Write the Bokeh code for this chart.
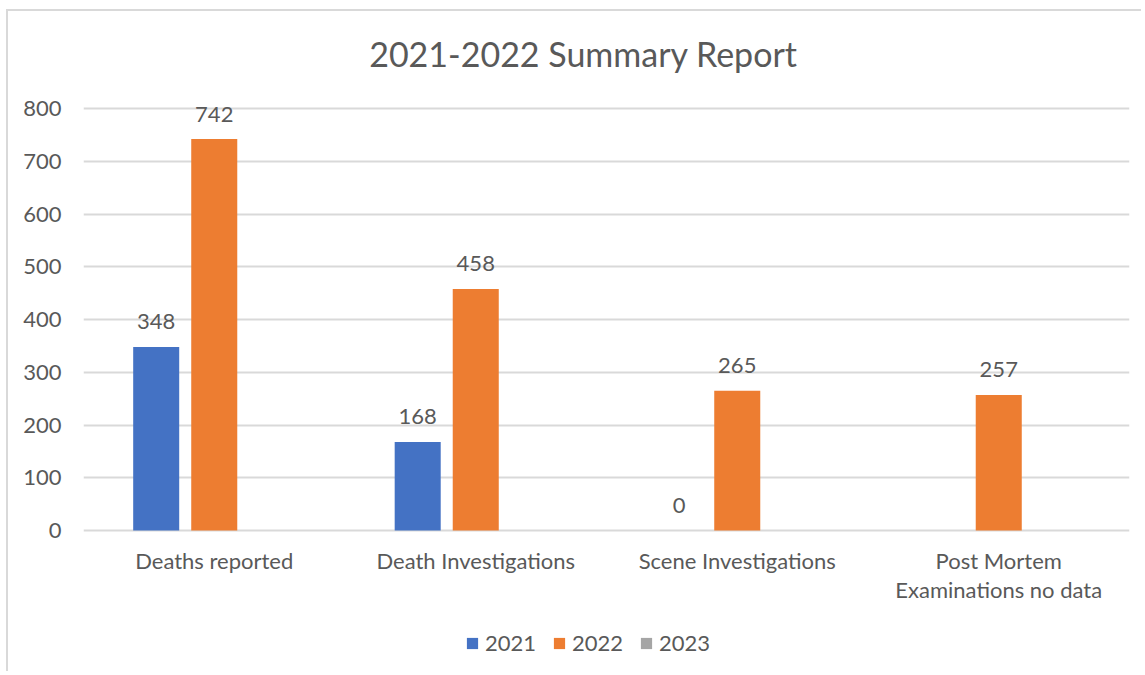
from bokeh.plotting import figure
from bokeh.models import (ColumnDataSource, FactorRange, FixedTicker, Legend, LegendItem,
                          Label, Range1d)
from bokeh.transform import dodge
from bokeh.core.properties import value
from bokeh.embed import file_html
from bokeh.resources import INLINE
import numpy as np

# ---- data ----
categories = ["Deaths reported", "Death Investigations", "Scene Investigations",
              "Post Mortem Examinations no data"]
label_line1 = ["Deaths reported", "Death Investigations", "Scene Investigations", "Post Mortem"]
label_line2 = ["", "", "", "Examinations no data"]
series_names = ["2021", "2022", "2023"]
values_2021 = [348, 168, 0, None]
values_2022 = [742, 458, 265, 257]
values_2023 = [None, None, None, None]
y_ticks = [0, 100, 200, 300, 400, 500, 600, 700, 800]
title_text = "2021-2022 Summary Report"

colors = ["#4472C4", "#ED7D31", "#A5A5A5"]
FONT = "Lato"
TXT = "#595959"

# pixel geometry of the plot frame
PX_PER_100 = 52.75
K = 100.0 / PX_PER_100  # data units per pixel
Y_TOP = 800 + 97 * K
Y_BOTTOM = -143 * K


def to_arr(vals):
    return np.array([np.nan if v is None else float(v) for v in vals])


def to_lbl(vals):
    return ["" if v is None else str(v) for v in vals]


src = ColumnDataSource(dict(
    cat=categories,
    s2021=to_arr(values_2021), s2022=to_arr(values_2022), s2023=to_arr(values_2023),
    l2021=to_lbl(values_2021), l2022=to_lbl(values_2022), l2023=to_lbl(values_2023),
    line1=label_line1, line2=label_line2,
    y1=[-30 * K] * len(categories), y2=[-59 * K] * len(categories),
))

p = figure(x_range=FactorRange(*categories, range_padding=0),
           y_range=Range1d(Y_BOTTOM, Y_TOP),
           width=1135, height=662, output_backend="svg", toolbar_location=None,
           min_border_left=75, min_border_right=14, min_border_top=0,
           min_border_bottom=0)
p.margin = (9, 0, 0, 6)
p.styles = {"border-top": "2px solid #D9D9D9", "border-left": "2px solid #D9D9D9"}
p.outline_line_color = None
p.background_fill_color = "white"
p.border_fill_color = "white"

offsets = [-0.222, 0.0, 0.222]
bw = 0.176
renderers = []
for name, off, col in zip(series_names, offsets, colors):
    r = p.vbar(x=dodge("cat", off, range=p.x_range), top="s" + name, width=bw,
               source=src, fill_color=col, line_color=None)
    renderers.append(r)
    p.text(x=dodge("cat", off, range=p.x_range), y="s" + name, text="l" + name,
           source=src, text_align="center", text_baseline="alphabetic", y_offset=-25,
           text_font=value(FONT), text_font_size="22px", text_color=TXT)

# category labels (below the zero line)
for col in ["line1", "line2"]:
    p.text(x="cat", y="y" + col[-1], text=col, source=src, text_align="center",
           text_baseline="middle", text_font=value(FONT), text_font_size="22px",
           text_color=TXT)

# axes
p.xaxis.visible = False
p.yaxis.ticker = FixedTicker(ticks=y_ticks)
p.yaxis.axis_line_color = None
p.yaxis.major_tick_line_color = None
p.yaxis.minor_tick_line_color = None
p.yaxis.major_tick_out = 0
p.yaxis.major_tick_in = 0
p.yaxis.major_label_standoff = 22
p.yaxis.major_label_text_font = FONT
p.yaxis.major_label_text_font_size = "22px"
p.yaxis.major_label_text_color = TXT

p.xgrid.grid_line_color = None
p.ygrid.grid_line_color = "#D9D9D9"
p.ygrid.grid_line_width = 2
p.ygrid.ticker = FixedTicker(ticks=y_ticks)

# title
p.add_layout(Label(x=500, y=620, x_units="screen", y_units="screen", text=title_text,
                   text_align="center", text_baseline="middle", text_font=FONT,
                   text_font_size="34px", text_color=TXT))

legend = Legend(items=[LegendItem(label=n, renderers=[r]) for n, r in zip(series_names, renderers)],
                orientation="horizontal", location=(382, 17),
                glyph_width=14, glyph_height=14, label_standoff=6, spacing=16,
                padding=0, margin=0, border_line_color=None, background_fill_alpha=0,
                label_text_font=FONT, label_text_font_size="22px", label_text_color=TXT)
p.add_layout(legend, "center")

open("out.html", "w").write(file_html(p, INLINE))
